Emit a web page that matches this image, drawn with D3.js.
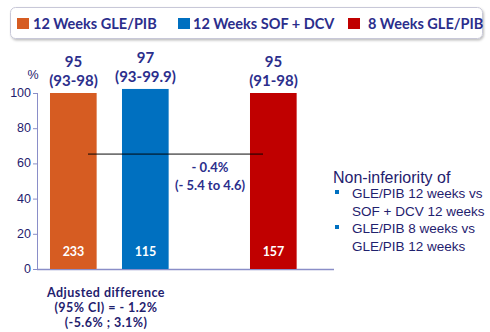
<!DOCTYPE html>
<html><head><meta charset="utf-8">
<script src="https://cdn.jsdelivr.net/npm/d3@7"></script>
<style>body{margin:0;background:#fff}svg{display:block}</style>
</head><body>
<script>
const categories12 = ["12 Weeks GLE/PIB", "12 Weeks SOF + DCV"];
const categories8 = ["8 Weeks GLE/PIB"];
const legendLabels = ["12 Weeks GLE/PIB", "12 Weeks SOF + DCV", "8 Weeks GLE/PIB"];
const barHeights = [100, 102.3, 100];       // drawn bar tops
const svrLabels = ["95", "97", "95"];
const ciLabels = ["(93-98)", "(93-99.9)", "(91-98)"];
const nLabels = ["233", "115", "157"];
const yTicks = [0, 20, 40, 60, 80, 100];
const diffLineValue = 65.3;
const diffLabels = ["- 0.4%", "(- 5.4 to 4.6)"];
const adjustedLabels = ["Adjusted difference", "(95% CI) = - 1.2%", "(-5.6% ; 3.1%)"];
const noteTitle = "Non-inferiority of";
const noteBullets = [["GLE/PIB 12 weeks vs", "SOF + DCV 12 weeks"], ["GLE/PIB 8 weeks vs", "GLE/PIB 12 weeks"]];
const colors = ["#d65c22", "#0070c0", "#c00000"];

const W = 490, H = 332;
const navy = "#2b2e8c";
const svg = d3.select("body").append("svg").attr("width", W).attr("height", H);

const y = d3.scaleLinear().domain([0, 100]).range([269, 93]);
const x12 = d3.scaleBand().domain(categories12).range([37.5, 181.5]).paddingInner(0.347).paddingOuter(0.1735);
const x8 = d3.scaleBand().domain(categories8).range([237.5, 309.5]).paddingInner(0.347).paddingOuter(0.1735);
const bars = categories12.concat(categories8).map((c, i) => {
  const sc = i < 2 ? x12 : x8;
  return {c, i, x: sc(c), w: sc.bandwidth(), v: barHeights[i]};
});

// legend box
const defs = svg.append("defs");
const f = defs.append("filter").attr("id", "sh").attr("x", "-5%").attr("y", "-20%").attr("width", "110%").attr("height", "150%");
f.append("feDropShadow").attr("dx", 1).attr("dy", 1.5).attr("stdDeviation", 1.2).attr("flood-color", "#000").attr("flood-opacity", 0.25);
svg.append("rect").attr("x", 10.5).attr("y", 7.5).attr("width", 472).attr("height", 31).attr("rx", 5)
  .attr("fill", "#fff").attr("stroke", "#c8c8d8").attr("stroke-width", 1).attr("filter", "url(#sh)");
const legX = [17, 178, 348], legTX = [33, 193, 368];
legendLabels.forEach((l, i) => {
  svg.append("rect").attr("x", legX[i]).attr("y", 18).attr("width", 12).attr("height", 11).attr("fill", colors[i]);
  svg.append("text").attr("x", legTX[i]).attr("y", 29).text(l)
    .attr("font-family", "Lato, 'Open Sans', sans-serif").attr("font-weight", "bold").attr("font-size", 14.5).attr("fill", navy);
});

// axes
const axisColor = "#8a8ec8";
svg.append("line").attr("x1", 37.5).attr("x2", 37.5).attr("y1", y(100)).attr("y2", y(0)).attr("stroke", axisColor);
svg.append("line").attr("x1", 37).attr("x2", 334).attr("y1", y(0) + 0.5).attr("y2", y(0) + 0.5).attr("stroke", axisColor).attr("stroke-width", 1.5);
yTicks.forEach(t => {
  svg.append("line").attr("x1", 33).attr("x2", 37.5).attr("y1", y(t) + 0.5).attr("y2", y(t) + 0.5).attr("stroke", axisColor);
  svg.append("text").attr("x", 31).attr("y", y(t) + 4).attr("text-anchor", "end").text(t)
    .attr("font-family", "'Liberation Sans', Arial, sans-serif").attr("font-size", 12.5).attr("fill", "#1f216e");
});
svg.append("text").attr("x", 33).attr("y", 79).attr("text-anchor", "middle").text("%")
  .attr("font-family", "'Liberation Sans', Arial, sans-serif").attr("font-size", 12.5).attr("fill", "#1f216e");

// bars
bars.forEach(b => {
  svg.append("rect").attr("x", b.x).attr("y", y(b.v)).attr("width", b.w).attr("height", y(0) - y(b.v)).attr("fill", colors[b.i]);
  svg.append("line").attr("x1", b.x + b.w - 0.5).attr("x2", b.x + b.w - 0.5).attr("y1", y(b.v)).attr("y2", y(0))
    .attr("stroke", "#fff").attr("stroke-opacity", 0.35);
  const cx = b.x + b.w / 2;
  const lab = svg.append("g").attr("font-family", "Lato, 'Open Sans', sans-serif").attr("font-weight", "bold")
    .attr("font-size", 15).attr("fill", navy).attr("text-anchor", "middle");
  lab.append("text").attr("x", cx).attr("y", y(b.v) - 26).text(svrLabels[b.i]);
  lab.append("text").attr("x", cx).attr("y", y(b.v) - 7).text(ciLabels[b.i]);
  svg.append("text").attr("x", cx).attr("y", 256).attr("text-anchor", "middle").text(nLabels[b.i])
    .attr("font-family", "Lato, 'Open Sans', sans-serif").attr("font-weight", "bold").attr("font-size", 12.5).attr("fill", "#fff");
});

// difference line
svg.append("line").attr("x1", 88).attr("x2", 263).attr("y1", y(diffLineValue)).attr("y2", y(diffLineValue))
  .attr("stroke", "#000").attr("stroke-opacity", 0.55).attr("stroke-width", 1.8);
const dl = svg.append("g").attr("font-family", "Lato, 'Open Sans', sans-serif").attr("font-weight", "bold")
  .attr("font-size", 13).attr("fill", navy).attr("text-anchor", "middle");
diffLabels.forEach((t, i) => dl.append("text").attr("x", 210).attr("y", 172 + i * 18).text(t));

// adjusted difference
const ad = svg.append("g").attr("font-family", "Lato, 'Open Sans', sans-serif").attr("font-weight", "bold")
  .attr("font-size", 12.5).attr("letter-spacing", 0.45).attr("fill", "#1f216e").attr("text-anchor", "middle");
adjustedLabels.forEach((t, i) => ad.append("text").attr("x", 106).attr("y", 297 + i * 15).text(t));

// note
const nt = svg.append("g").attr("font-family", "'Liberation Sans', Arial, sans-serif").attr("fill", "#1f216e");
nt.append("text").attr("x", 333).attr("y", 183).attr("font-size", 16).text(noteTitle);
let ly = 198;
noteBullets.forEach(lines => {
  svg.append("rect").attr("x", 335).attr("y", ly - 8).attr("width", 4).attr("height", 4).attr("fill", "#0070c0");
  lines.forEach(l => { nt.append("text").attr("x", 352).attr("y", ly).attr("font-size", 13.5).text(l); ly += 17.5; });
});
</script>
</body></html>
